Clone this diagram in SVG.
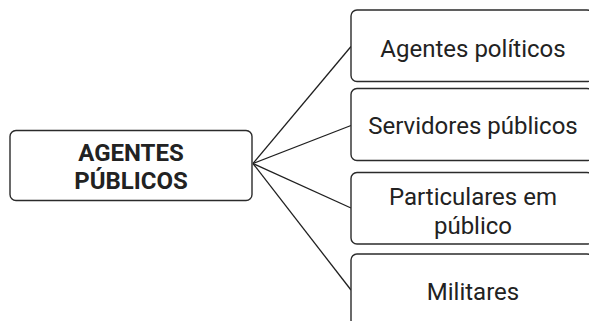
<svg xmlns="http://www.w3.org/2000/svg" width="589" height="321" viewBox="0 0 589 321">
<style>
  .box { fill: #ffffff; stroke: #2b2b2b; stroke-width: 1.4; }
  .lbl { font-family: Roboto, "Liberation Sans", sans-serif; font-size: 24px; fill: #222222; text-anchor: middle; }
  .root { font-weight: bold; }
  .conn { stroke: #1f1f1f; stroke-width: 1.3; fill: none; }
</style>
<rect width="589" height="321" fill="#ffffff"/>
<g id="connectors">
  <line class="conn" x1="253" y1="163.5" x2="351" y2="46.5"/>
  <line class="conn" x1="253" y1="163.5" x2="351" y2="125.5" stroke-width="1.6"/>
  <line class="conn" x1="253" y1="163.5" x2="351" y2="208" stroke-width="1.6"/>
  <line class="conn" x1="253" y1="163.5" x2="351" y2="290"/>
</g>
<g id="agentes-publicos">
  <rect class="box" x="10" y="130.5" width="242" height="70" rx="6"/>
  <text class="lbl root" x="131" y="161">AGENTES</text>
  <text class="lbl root" x="131" y="189">PÚBLICOS</text>
</g>
<g id="agentes-politicos">
  <rect class="box" x="351" y="10" width="242" height="71.5" rx="6"/>
  <text class="lbl" x="473" y="57">Agentes políticos</text>
</g>
<g id="servidores-publicos">
  <rect class="box" x="351" y="88.5" width="242" height="72" rx="6"/>
  <text class="lbl" x="473" y="133.5">Servidores públicos</text>
</g>
<g id="particulares-em-publico">
  <rect class="box" x="351" y="172.5" width="242" height="71.5" rx="6"/>
  <text class="lbl" x="473" y="205">Particulares em</text>
  <text class="lbl" x="473" y="233.5">público</text>
</g>
<g id="militares">
  <rect class="box" x="351" y="254" width="242" height="72" rx="6"/>
  <text class="lbl" x="473" y="300">Militares</text>
</g>
</svg>
